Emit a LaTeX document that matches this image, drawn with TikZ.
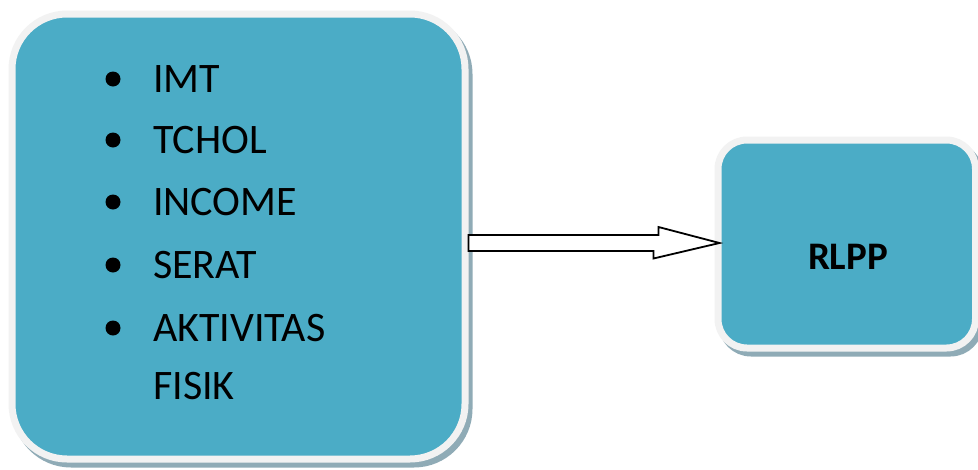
\documentclass[tikz,border=0pt]{standalone}
\usepackage{fontspec}
\setmainfont{Carlito}
\usetikzlibrary{shadows,calc}
\definecolor{teal}{HTML}{4BACC6}
\definecolor{rim}{HTML}{F2F2F2}
\definecolor{shade}{HTML}{8FABB6}
\tikzset{
  box/.style={draw=rim, fill=teal, line width=7pt, inner sep=0pt,
    general shadow={shadow xshift=4pt, shadow yshift=-5pt, draw=shade, fill=shade, line width=7pt}},
  item/.style={anchor=base west, inner sep=0pt, font=\fontsize{42}{42}\selectfont},
  dot/.style={circle, fill=black, minimum size=15pt, inner sep=0pt},
  blockarrow/.style={draw=black, fill=white, line width=1.8pt, line join=miter}
}
\begin{document}
\begin{tikzpicture}[x=1pt,y=-1pt]
\useasboundingbox (0,0) rectangle (978,469);
\node[box, rounded corners=55pt, minimum width=453pt, minimum height=445pt] (L) at (238.5,236.5) {};
\node[box, rounded corners=29pt, minimum width=257.5pt, minimum height=208pt] (R) at (846.75,244) {};
\node[anchor=base, inner sep=0pt, font=\fontsize{39}{39}\selectfont\bfseries] (rl) at (848,269) {RLPP};
\node[dot] (b1) at (113,79) {};
\node[dot] (b2) at (113,140) {};
\node[dot] (b3) at (113,202) {};
\node[dot] (b4) at (113,265) {};
\node[dot] (b5) at (113,328) {};
\node[item] (t1) at (153,92) {IMT};
\node[item] (t2) at (153,153) {TCHOL};
\node[item] (t3) at (153,215) {INCOME};
\node[item] (t4) at (153,278) {SERAT};
\node[item] (t5) at (153,341) {AKTIVITAS};
\node[item] (t6) at (153,399) {FISIK};
\coordinate (a0) at (L.east |- 0,243);
\coordinate (a1) at (R.west |- 0,243);
\draw[blockarrow] ($(a0)+(0,-8)$) -- ++(190,0) -- ++(0,-8) -- ($(a1)+(5,0)$)
  -- ++(-66,15.5) -- ++(0,-7.5) -- ($(a0)+(0,8)$) -- cycle;
\end{tikzpicture}
\end{document}
